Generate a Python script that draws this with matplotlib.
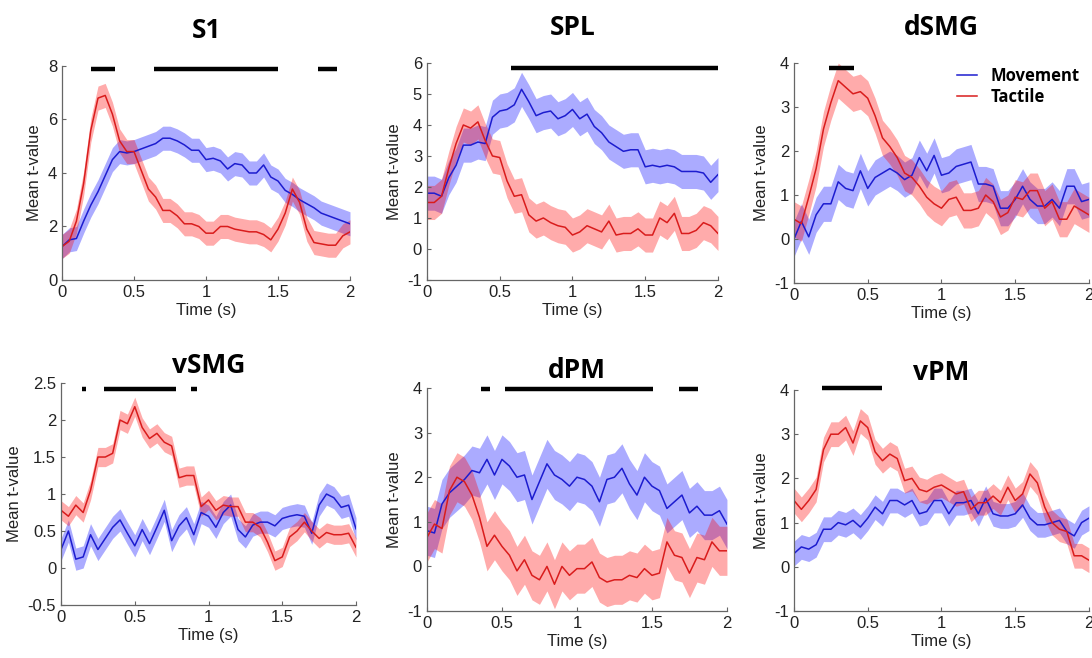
import numpy as np
import matplotlib
matplotlib.use('Agg')
import matplotlib.pyplot as plt

plt.rcParams['font.family'] = ['Liberation Sans', 'DejaVu Sans']

t = np.round(np.arange(0, 2.0001, 0.05), 2)

# mean t-values sampled every 50 ms
s1_mov = [1.25, 1.5, 1.55, 2.2, 2.8, 3.3, 3.9, 4.5, 4.8, 4.75, 4.8, 4.9, 5.0, 5.1, 5.3, 5.3, 5.2, 5.05, 4.85, 4.85,
          4.5, 4.55, 4.45, 4.15, 4.35, 4.3, 4.0, 4.0, 4.3, 3.85, 3.7, 3.35, 3.2, 3.0, 2.85, 2.7, 2.5, 2.4, 2.3, 2.2, 2.1]
s1_tac = [1.25, 1.45, 2.2, 3.6, 5.6, 6.8, 6.9, 6.2, 5.2, 4.8, 4.8, 4.1, 3.4, 3.1, 2.6, 2.6, 2.4, 2.1, 2.1, 2.0,
          1.75, 1.75, 2.0, 2.0, 1.9, 1.85, 1.8, 1.8, 1.7, 1.5, 1.9, 2.5, 3.4, 2.9, 1.9, 1.4, 1.35, 1.3, 1.3, 1.65, 1.8]

spl_mov = [1.8, 1.8, 1.7, 2.3, 2.7, 3.35, 3.35, 3.45, 3.4, 4.25, 4.45, 4.5, 4.65, 5.15, 4.75, 4.3, 4.4, 4.45, 4.2, 4.3,
           4.5, 4.2, 4.35, 3.95, 3.75, 3.45, 3.3, 3.15, 3.2, 3.2, 2.65, 2.7, 2.65, 2.7, 2.65, 2.5, 2.5, 2.5, 2.45, 2.15, 2.4]
spl_tac = [1.5, 1.5, 1.7, 2.6, 3.4, 4.0, 3.9, 4.1, 3.5, 3.0, 2.95, 2.2, 1.7, 1.75, 1.1, 0.9, 1.0, 0.85, 0.75, 0.7,
           0.45, 0.55, 0.75, 0.65, 0.55, 0.9, 0.45, 0.5, 0.5, 0.65, 0.45, 0.45, 1.0, 0.85, 1.15, 0.5, 0.5, 0.6, 0.85, 0.75, 0.5]

dsmg_mov = [0.0, 0.4, 0.05, 0.55, 0.8, 0.8, 1.3, 1.15, 1.1, 1.55, 1.15, 1.4, 1.5, 1.6, 1.5, 1.35, 1.45, 1.85, 1.55, 1.9,
            1.45, 1.5, 1.65, 1.7, 1.75, 1.25, 1.25, 1.2, 0.7, 0.7, 0.9, 1.2, 0.9, 0.75, 0.75, 0.9, 0.7, 1.2, 1.2, 0.85, 0.9]
dsmg_tac = [0.45, 0.35, 0.95, 1.6, 2.5, 3.1, 3.6, 3.45, 3.3, 3.35, 3.2, 2.8, 2.3, 2.1, 1.85, 1.5, 1.4, 1.2, 0.95, 0.8,
            0.7, 0.9, 0.95, 0.65, 0.65, 0.7, 1.0, 0.85, 0.5, 0.6, 0.95, 0.9, 1.1, 1.1, 0.7, 0.85, 0.45, 0.45, 0.75, 0.65, 0.55]

vsmg_mov = [0.25, 0.5, 0.12, 0.15, 0.45, 0.25, 0.4, 0.55, 0.65, 0.47, 0.3, 0.52, 0.33, 0.55, 0.78, 0.37, 0.57, 0.68, 0.45, 0.75,
            0.7, 0.55, 0.75, 0.85, 0.52, 0.42, 0.58, 0.62, 0.62, 0.57, 0.67, 0.7, 0.72, 0.7, 0.47, 0.85, 1.0, 0.95, 0.82, 0.85, 0.53]
vsmg_tac = [0.78, 0.7, 0.85, 0.75, 1.05, 1.5, 1.5, 1.55, 2.0, 1.95, 2.18, 1.9, 1.75, 1.82, 1.7, 1.65, 1.22, 1.25, 1.25, 0.83,
            0.92, 0.78, 0.85, 0.83, 0.83, 0.62, 0.62, 0.55, 0.35, 0.1, 0.15, 0.42, 0.5, 0.62, 0.5, 0.4, 0.48, 0.45, 0.45, 0.47, 0.28]

dpm_mov = [0.8, 0.75, 1.4, 1.65, 1.8, 1.95, 2.15, 2.1, 2.4, 2.05, 2.4, 2.25, 2.0, 2.05, 1.5, 1.9, 2.3, 2.05, 1.95, 1.8,
           2.0, 1.95, 1.8, 1.45, 1.95, 2.0, 2.2, 1.85, 1.6, 2.0, 1.8, 1.7, 1.3, 1.45, 1.6, 1.2, 1.35, 1.15, 1.15, 1.25, 0.95]
dpm_tac = [0.65, 0.95, 0.85, 1.7, 2.0, 1.9, 1.6, 1.1, 0.45, 0.7, 0.45, 0.25, -0.1, 0.15, -0.2, -0.3, 0.0, -0.4, 0.0, -0.2,
           -0.05, -0.05, 0.1, -0.25, -0.35, -0.3, -0.3, -0.2, -0.25, -0.05, -0.2, -0.15, 0.55, 0.25, 0.2, -0.15, 0.2, 0.15, 0.55, 0.35, 0.35]

vpm_mov = [0.3, 0.45, 0.4, 0.5, 0.85, 0.85, 1.0, 0.95, 1.05, 0.9, 1.1, 1.35, 1.2, 1.5, 1.5, 1.4, 1.5, 1.2, 1.25, 1.5,
           1.5, 1.2, 1.45, 1.45, 1.5, 1.2, 1.55, 1.2, 1.15, 1.15, 1.2, 1.4, 1.1, 0.95, 0.95, 1.0, 1.05, 0.8, 0.7, 1.0, 1.1]
vpm_tac = [1.5, 1.3, 1.5, 1.75, 2.65, 3.0, 3.0, 3.15, 2.8, 3.3, 3.15, 2.6, 2.4, 2.55, 2.45, 1.95, 2.0, 1.75, 1.7, 1.8,
           1.85, 1.75, 1.65, 1.7, 1.3, 1.45, 1.45, 1.6, 1.45, 1.8, 1.5, 1.65, 2.1, 1.9, 1.35, 1.0, 0.85, 0.8, 0.25, 0.25, 0.15]

# standard error (half-width of shaded band) per region: movement, tactile
sem = {'S1': (0.45, 0.45), 'SPL': (0.55, 0.55), 'dSMG': (0.4, 0.4),
       'vSMG': (0.15, 0.13), 'dPM': (0.55, 0.55), 'vPM': (0.28, 0.28)}

# significant intervals (s) and the height the bar sits at
sig = {'S1': [(0.2, 0.37), (0.64, 1.5), (1.78, 1.91)],
       'SPL': [(0.58, 2.0)],
       'dSMG': [(0.24, 0.41)],
       'vSMG': [(0.14, 0.17), (0.29, 0.78), (0.88, 0.925)],
       'dPM': [(0.36, 0.42), (0.52, 1.51), (1.68, 1.81)],
       'vPM': [(0.19, 0.6)]}
sig_y = {'S1': 7.9, 'SPL': 5.84, 'dSMG': 3.89, 'vSMG': 2.42, 'dPM': 3.98, 'vPM': 4.04}

names = ['S1', 'SPL', 'dSMG', 'vSMG', 'dPM', 'vPM']
movement = [s1_mov, spl_mov, dsmg_mov, vsmg_mov, dpm_mov, vpm_mov]
tactile = [s1_tac, spl_tac, dsmg_tac, vsmg_tac, dpm_tac, vpm_tac]
ylims = [(0, 8), (-1, 6), (-1, 4), (-0.5, 2.5), (-1, 4), (-1, 4)]
yticks = [[0, 2, 4, 6, 8], range(-1, 7), range(-1, 5), [-0.5, 0, 0.5, 1, 1.5, 2, 2.5], range(-1, 5), range(-1, 5)]

boxes = [[0.0568, 0.5745, 0.2637, 0.3252], [0.3910, 0.5745, 0.2665, 0.3298], [0.7271, 0.5699, 0.2701, 0.3343],
         [0.0559, 0.0805, 0.2701, 0.3374], [0.3910, 0.0714, 0.2747, 0.3389], [0.7271, 0.0714, 0.2701, 0.3359]]

blue_line, blue_fill = '#1c1ccf', '#0000ff'
red_line, red_fill = '#d91c1c', '#ff0000'
title_font = ['Open Sans', 'Liberation Sans', 'DejaVu Sans']

fig = plt.figure(figsize=(10.92, 6.58), dpi=100)

for i, name in enumerate(names):
    ax = fig.add_axes(boxes[i])
    mov = np.array(movement[i])
    tac = np.array(tactile[i])
    sm, st = sem[name]
    ax.fill_between(t, mov - sm, mov + sm, color=blue_fill, alpha=0.33, lw=0)
    ax.fill_between(t, tac - st, tac + st, color=red_fill, alpha=0.33, lw=0)
    ax.plot(t, mov, color=blue_line, lw=1.1, label='Movement')
    ax.plot(t, tac, color=red_line, lw=1.1, label='Tactile')
    for a, b in sig[name]:
        ax.plot([a, b], [sig_y[name]] * 2, color='black', lw=3.2, solid_capstyle='butt', clip_on=False)

    ax.set_xlim(0, 2)
    ax.set_ylim(*ylims[i])
    ax.set_xticks([0, 0.5, 1, 1.5, 2])
    ax.set_xticklabels(['0', '0.5', '1', '1.5', '2'])
    ax.set_yticks(list(yticks[i]))
    ax.set_yticklabels([('%g' % v) for v in yticks[i]])
    for s in ['top', 'right']:
        ax.spines[s].set_visible(False)
    for s in ['left', 'bottom']:
        ax.spines[s].set_color('#666666')
        ax.spines[s].set_linewidth(0.9)
    ax.tick_params(direction='in', length=3, width=0.8, colors='#666666', labelcolor='#222222', labelsize=12)
    ax.set_xlabel('Time (s)', fontsize=12, color='#222222', labelpad=2)
    ax.set_ylabel('Mean t-value', fontsize=12, color='#222222', labelpad=4)
    ax.set_title(name, fontsize=19, fontweight='bold', family=title_font,
                 pad=20 if i < 3 else 7)

    if name == 'dSMG':
        ax.legend(loc='upper right', bbox_to_anchor=(1.02, 1.05), frameon=False,
                  handlelength=1.2, handletextpad=0.8, labelspacing=0.15,
                  prop={'weight': 'bold', 'size': 12, 'family': title_font})

fig.savefig('out.png', dpi=100)
